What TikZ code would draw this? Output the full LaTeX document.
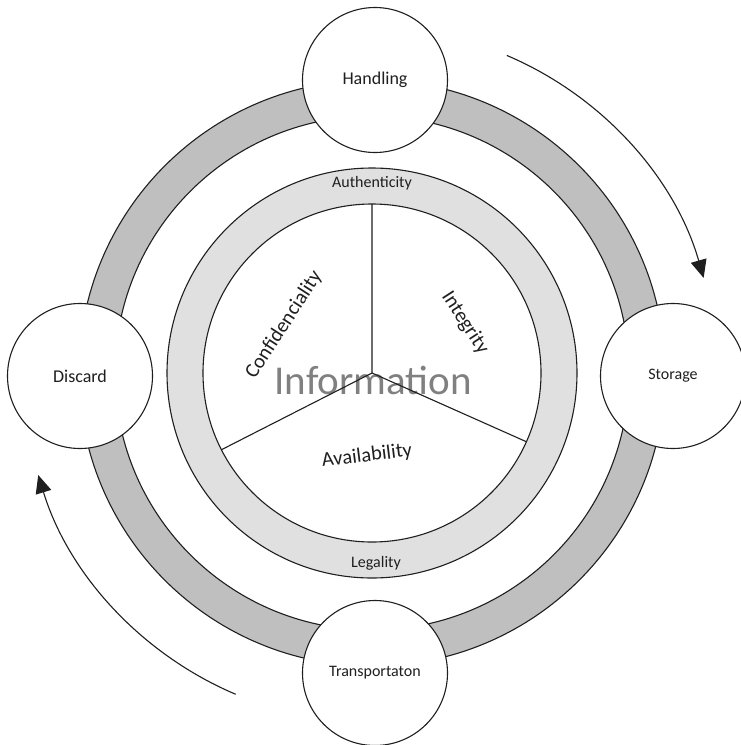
\documentclass[tikz,border=0pt]{standalone}
\usepackage{fontspec}
\setmainfont{Carlito}
\usetikzlibrary{arrows.meta}
\definecolor{ringdark}{HTML}{BFBFBF}
\definecolor{ringlight}{HTML}{E0E0E0}
\definecolor{infogray}{HTML}{808080}
\definecolor{ink}{HTML}{1F1F1F}
\begin{document}
\begin{tikzpicture}[x=1pt, y=-1pt, line width=1.1pt,
  stage/.style={circle, draw=ink, fill=white, minimum size=145pt, inner sep=0pt,
    font=\fontsize{16}{19}\selectfont, text=ink},
  bigstage/.style={stage, font=\fontsize{18}{21}\selectfont},
  ringlabel/.style={font=\fontsize{16}{19}\selectfont, text=ink, anchor=base},
  pillar/.style={font=\fontsize{20.5}{24}\selectfont, text=ink},
  flow/.style={draw=ink, line width=1.1pt, -{Triangle[length=18pt,width=16pt]}}]
\useasboundingbox (0,0) rectangle (740,745);
\coordinate (c) at (372,373);

% lifecycle band
\fill[ringdark, even odd rule] (c) circle[radius=293pt] (c) circle[radius=257pt];
\draw[ink] (c) circle[radius=293pt] (c) circle[radius=257pt];

% property band and core disc
\draw[ink, fill=ringlight] (c) circle[radius=205pt];
\draw[ink, fill=white] (c) circle[radius=169pt];

\node[ringlabel] (auth) at (372,187) {Authenticity};
\node[ringlabel] (legal) at (376,567) {Legality};

\node[font=\fontsize{41}{49}\selectfont, text=infogray, anchor=base] (info) at (373,394) {Information};

% sector dividers
\draw[ink] (c) -- ++(90:169pt) (c) -- ++(207:169pt) (c) -- ++(336:169pt);

\node[pillar, rotate=57] (conf) at (284,325) {Confidenciality};
\node[pillar, rotate=-57] (integ) at (465,323) {Integrity};
\node[pillar, rotate=7] (avail) at (367,456) {Availability};

% lifecycle stages
\node[bigstage] (handling) at (375,80) {Handling};
\node[stage] (storage) at (673,376) {Storage};
\node[stage] (transport) at (375,673) {Transportaton};
\node[bigstage] (discard) at (80,376) {Discard};

% direction of the cycle
\draw[flow] (c) ++(67:345pt) arc[start angle=67, end angle=16, radius=345pt];
\draw[flow] (c) ++(247:349pt) arc[start angle=247, end angle=197, radius=349pt];
\end{tikzpicture}
\end{document}
